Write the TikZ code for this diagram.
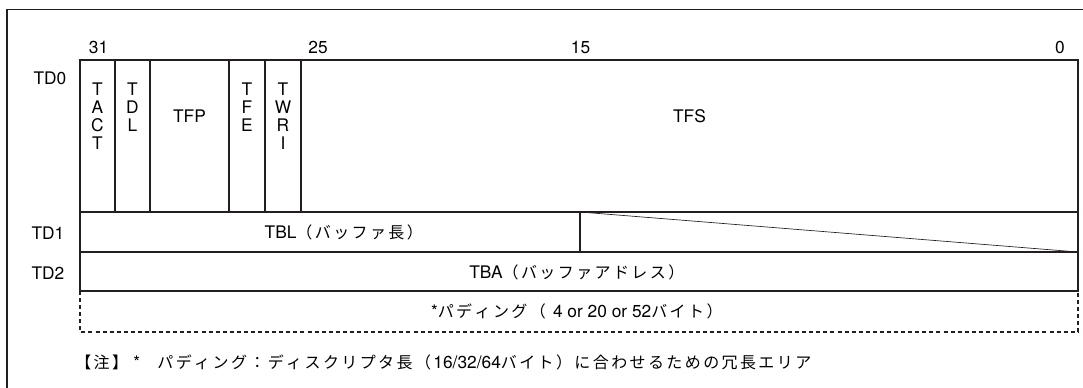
\documentclass[tikz,border=0pt]{standalone}
\usepackage{fontspec}
\setmainfont{TeX Gyre Heros}
\newfontfamily\jpfont{Noto Sans CJK JP}
\ExplSyntaxOn
\NewDocumentCommand{\jp}{m}{{\jpfont\fontsize{12}{12}\selectfont \tl_map_inline:nn {#1}{##1\kern 1.8pt}}}
\ExplSyntaxOff
\usetikzlibrary{positioning}
\definecolor{linegray}{HTML}{231F20}

\begin{document}
\begin{tikzpicture}[
  x=0.75pt, y=-0.75pt,
  font=\fontsize{13}{13}\selectfont,
  frame/.style={draw=linegray, line width=1pt},
  reg/.style={draw=linegray, line width=1pt},
  slant/.style={draw=linegray, line width=0.5pt},
  pad/.style={draw=linegray, line width=1.1pt, dash pattern=on 3pt off 2.3pt},
  vfield/.style={anchor=north, align=center, inner sep=0pt, font=\fontsize{13}{13.3}\selectfont},
  field/.style={inner sep=0pt},
  bitno/.style={inner sep=0pt},
  rowlab/.style={inner sep=0pt}
]
\useasboundingbox (0,0) rectangle (1083,388);
\clip (0,0) rectangle (1083,388);
\draw[frame] (7,400) |- (1095,9.5);

% register rows
\draw[reg] (80,60) rectangle (1078,212);
\draw[reg] (80,212) rectangle (1078,252);
\draw[reg] (80,252) rectangle (1078,291);
\draw[reg] (115,60) -- (115,212);
\draw[reg] (150,60) -- (150,212);
\draw[reg] (229,60) -- (229,212);
\draw[reg] (265,60) -- (265,212);
\draw[reg] (301,60) -- (301,212);
\draw[reg] (580,212) -- (580,252);
\draw[slant] (580,212) -- (1078,252);
\draw[pad] (80,291) -- (80,332) -- (1078,332) -- (1078,291);

% bit numbers and row names
\node[bitno] (b31) at (98.5,47.5) {31};
\node[bitno] (b25) at (318,47.5) {25};
\node[bitno] (b15) at (580.5,47.5) {15};
\node[bitno] (b0) at (1060,47.5) {0};
\node[rowlab] (td0) at (50,78) {TD0};
\node[rowlab] (td1) at (48,233) {TD1};
\node[rowlab] (td2) at (48,273) {TD2};

% TD0 fields
\node[vfield] (tact) at (97.5,83) {T\\A\\C\\T};
\node[vfield] (tdl) at (132.5,83) {T\\D\\L};
\node[field] (tfp) at (189.5,116) {TFP};
\node[vfield] (tfe) at (247,83) {T\\F\\E};
\node[vfield] (twri) at (283,83) {T\\W\\R\\I};
\node[field] (tfs) at (689.5,116) {TFS};

% TD1, TD2 and padding
\node[field] (tbl) at (345,232) {TBL\jp{（バッファ長）}};
\node[field] (tba) at (578,272) {TBA\jp{（バッファアドレス）}};
\node[field] (padding) at (578,311) {*\jp{パディング（}\ 4 or 20 or 52\jp{バイト）}};
\node[field, anchor=west] (note) at (75,362) {\jp{【注】}\,*\quad\jp{パディング：ディスクリプタ長（}16/32/64\jp{バイト）に合わせるための冗長エリア}};
\end{tikzpicture}
\end{document}
